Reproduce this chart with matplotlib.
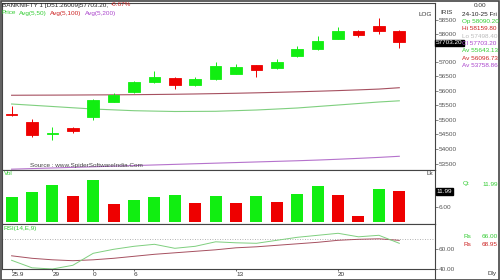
import numpy as np
import matplotlib
matplotlib.use("Agg")
import matplotlib.pyplot as plt
from matplotlib.ticker import FixedLocator, FixedFormatter, NullLocator, NullFormatter
from matplotlib.patches import Rectangle

plt.rcParams['font.family'] = ['Liberation Sans', 'DejaVu Sans']

# ---------------- data ----------------
date_ticks = [0, 2, 4, 6, 11, 16]
date_labels = ["25.9", "29", "0", "6", "13", "20"]

opens = [55206, 54926, 54520, 54701, 55076, 55602, 55938, 56286, 56447, 56192,
         56391, 56577, 56883, 56788, 57213, 57451, 57831, 58108, 58300, 58090.2]
closes = [55154, 54464, 54540, 54609, 55671, 55844, 56286, 56461, 56192, 56402,
          56869, 56834, 56718, 56990, 57473, 57759, 58097, 57953, 58092, 57703.2]
highs = [55464, 55008, 54755, 54755, 55706, 55909, 56342, 56693, 56482, 56482,
         57010, 56932, 56905, 57095, 57580, 57928, 58242, 58144, 58568, 58159.8]
lows = [55104, 54406, 54305, 54552, 54984, 55585, 55913, 56251, 56052, 56157,
        56367, 56560, 56461, 56752, 57170, 57443, 57820, 57903, 57989, 57498.4]

avg50 = [55533, 55490, 55447, 55403, 55360, 55331, 55302, 55288, 55275, 55278,
         55282, 55304, 55326, 55360, 55395, 55447, 55498, 55550, 55602, 55643]
avg100 = [55835, 55838, 55840, 55843, 55847, 55850, 55855, 55862, 55870, 55880,
          55892, 55905, 55920, 55937, 55955, 55975, 55997, 56022, 56050, 56097]
avg200 = [53330, 53350, 53370, 53390, 53410, 53430, 53450, 53470, 53490, 53510,
          53530, 53550, 53570, 53590, 53610, 53633, 53660, 53690, 53722, 53759]

volume = [9.85, 11.5, 14.5, 10.2, 16.4, 6.9, 8.6, 9.85, 10.6, 7.4,
          10.2, 7.4, 10.2, 7.9, 10.9, 14.1, 10.6, 2.5, 12.8, 11.99]
vol_up = [1, 1, 1, 0, 1, 0, 1, 1, 1, 0, 1, 0, 1, 0, 1, 1, 0, 0, 1, 0]

rsi = [49, 41.5, 40.3, 44, 56, 60, 63, 65, 61, 63,
       67.5, 66.5, 66, 69, 72, 74, 76, 72.5, 74, 66]
rsi_sig = [53.5, 51, 49.5, 48.6, 49.5, 51, 53, 55, 56.5, 58,
           59.5, 61.5, 62.5, 64, 65.5, 67, 69, 70, 70.5, 68.95]

price_ticks = [53500, 54000, 54500, 55000, 55500, 56000, 56500, 57000, 58000, 58500]

# ---------------- styling ----------------
GREEN = "#11ee11"
RED = "#ee0000"
MA_G = "#7fcf7f"
MA_R = "#a65060"
MA_P = "#b572cc"
T_G = "#33cc33"
T_R = "#cc2222"
T_P = "#aa44cc"
FRAME = "#444444"
FS = 4.6
HFS = 4.6

W, H = 500, 280
fig = plt.figure(figsize=(W / 100, H / 100), dpi=100)
fig.patch.set_facecolor("white")


def rect(x0, y0, x1, y1):
    return [x0 / W, 1 - y1 / H, (x1 - x0) / W, (y1 - y0) / H]


def fx(x):
    return x / W


def fy(y):
    return 1 - y / H


x = np.arange(len(opens))
XL = (-0.47, 20.75)

# ---------------- main price panel ----------------
ax = fig.add_axes(rect(2, 3, 435, 170))
ax.set_yscale("log")
ax.set_xlim(*XL)
ax.set_ylim(53303, 59127)

ax.plot(x, avg100, color=MA_R, lw=0.8)
ax.plot(x, avg50, color=MA_G, lw=0.8)
ax.plot(x, avg200, color=MA_P, lw=0.8)

for i in range(len(opens)):
    o, c, h, l = opens[i], closes[i], highs[i], lows[i]
    col = GREEN if c >= o else RED
    ax.vlines(i, l, h, color=col, lw=0.7, zorder=2)
    lo_, hi_ = min(o, c), max(o, c)
    ax.bar(i, hi_ - lo_, bottom=lo_, width=0.57, color=col, edgecolor=col,
           lw=0.6, zorder=3)

ax.yaxis.tick_right()
ax.yaxis.set_major_locator(FixedLocator(price_ticks))
ax.yaxis.set_major_formatter(FixedFormatter([str(v) for v in price_ticks]))
ax.yaxis.set_minor_locator(NullLocator())
ax.yaxis.set_minor_formatter(NullFormatter())
ax.tick_params(axis="y", labelsize=FS, pad=0.5, length=2, width=0.5,
               colors="#555555", direction="out")
ax.set_xticks([])
for s in ax.spines.values():
    s.set_color(FRAME)
    s.set_linewidth(0.8)

ax.text(28 / 433, 1 - (165 - 3) / 167, "Source : www.SpiderSoftwareIndia.Com",
        transform=ax.transAxes, fontsize=FS, color="#444444", va="center")
ax.text(430 / 433, 1 - (14 - 3) / 167, "LOG", transform=ax.transAxes,
        fontsize=FS, color="#333333", ha="right", va="center")

# ---------------- volume panel ----------------
av = fig.add_axes(rect(2, 170, 435, 224))
av.set_xlim(*XL)
av.set_ylim(-0.65, 20.1)
av.bar(x, volume, width=0.59, color=[GREEN if u else RED for u in vol_up], zorder=2)
av.yaxis.tick_right()
av.set_yticks([6])
av.set_yticklabels(["6.00"])
av.tick_params(axis="y", labelsize=FS, pad=0.5, length=2, width=0.5,
               colors="#555555")
av.set_xticks([])
for s in av.spines.values():
    s.set_color(FRAME)
    s.set_linewidth(0.8)
av.text(0.004, 0.93, "Vol", transform=av.transAxes, fontsize=FS, color=T_G,
        va="center")
av.text(0.995, 0.93, "Lk", transform=av.transAxes, fontsize=FS, color="#333333",
        va="center", ha="right")
av.text(1.004, 11.99, "11.99", transform=av.get_yaxis_transform(), fontsize=FS,
        color="white", va="center", ha="left",
        bbox=dict(boxstyle="square,pad=0.15", fc="black", ec="black"))

# ---------------- RSI panel ----------------
ar = fig.add_axes(rect(2, 224, 435, 269.3))
ar.set_xlim(*XL)
ar.set_ylim(40, 85.3)
ar.axhline(70, color="#999999", lw=0.6, ls=(0, (1, 2)))
ar.plot(x, rsi_sig, color=MA_R, lw=0.7)
ar.plot(x, rsi, color=MA_G, lw=0.7)
ar.yaxis.tick_right()
ar.set_yticks([40, 60])
ar.set_yticklabels(["40.00", "60.00"])
ar.tick_params(axis="y", labelsize=FS, pad=0.5, length=2, width=0.5,
               colors="#555555")
ar.set_xticks(date_ticks)
ar.set_xticklabels(date_labels)
ar.tick_params(axis="x", labelsize=FS, pad=0.8, length=1.5, width=0.5,
               colors="#333333")
for lbl in ar.get_xticklabels():
    lbl.set_ha("left")
for s in ar.spines.values():
    s.set_color(FRAME)
    s.set_linewidth(0.8)
ar.text(0.004, 0.9, "RSI(14,E,9)", transform=ar.transAxes, fontsize=FS,
        color=T_G, va="center")

# ---------------- header texts (placed one after another) ----------------
fig.canvas.draw()
renderer = fig.canvas.get_renderer()


def text_row(x0, y, parts, gap=3):
    xp = x0
    for t, c in parts:
        tx = fig.text(fx(xp), fy(y), t, fontsize=HFS, color=c, va="center")
        bb = tx.get_window_extent(renderer)
        xp += bb.width + gap


text_row(2, 5, [("BANKNIFTY 1 [D51.26009]57703.20,", "#222222"),
                ("-0.67%", T_R)])
text_row(2, 13, [("Price", T_G), ("Avg(5,50)", T_G),
                 ("Avg(5,100)", T_R), ("Avg(5,200)", T_P)])

# last price box on axis
fig.text(fx(436), fy(43), "57703.20", fontsize=FS, color="white", va="center",
         bbox=dict(boxstyle="square,pad=0.15", fc="black", ec="black"))
fig.text(fx(440), fy(12), "IRIS", fontsize=FS, color="#333333", va="center")

# ---------------- right info column ----------------
info = [
    (5.5, "0.00", "#333333", 474),
    (14.5, "24-10-25 Fri", "#222222", 462),
    (22, "Op 58090.20", T_G, 462),
    (29, "Hi 58159.80", T_R, 462),
    (36, "Lo 57498.40", "#bbbbbb", 462),
    (43.5, "Cl 57703.20", T_P, 462),
    (51, "Av 55643.13", T_G, 462),
    (58, "Av 56096.73", T_R, 462),
    (65, "Av 53758.86", T_P, 462),
]
for yy, t, c, xx in info:
    fig.text(fx(xx), fy(yy), t, fontsize=FS, color=c, va="center")

fig.text(fx(463), fy(184), "Qt", fontsize=FS, color=T_G, va="center")
fig.text(fx(482), fy(184), "11.99", fontsize=FS, color=T_G, va="center")
fig.text(fx(463), fy(236.7), "Rs", fontsize=FS, color=T_G, va="center")
fig.text(fx(482), fy(236.7), "66.00", fontsize=FS, color=T_G, va="center")
fig.text(fx(463), fy(244), "Rs", fontsize=FS, color=T_R, va="center")
fig.text(fx(482), fy(244), "68.95", fontsize=FS, color=T_R, va="center")
fig.text(fx(488), fy(273.5), "Dly", fontsize=FS, color="#333333", va="center")

# outer frame
fig.add_artist(Rectangle((0.5 / W, 0.5 / H), 1 - 1.5 / W, 1 - 1.5 / H,
                         transform=fig.transFigure, fill=False, ec=FRAME, lw=1.2))
fig.add_artist(plt.Line2D([fx(435), fx(435)], [fy(269.3), fy(278.5)],
                          transform=fig.transFigure, color=FRAME, lw=0.8))

fig.savefig("out.png", dpi=100)
